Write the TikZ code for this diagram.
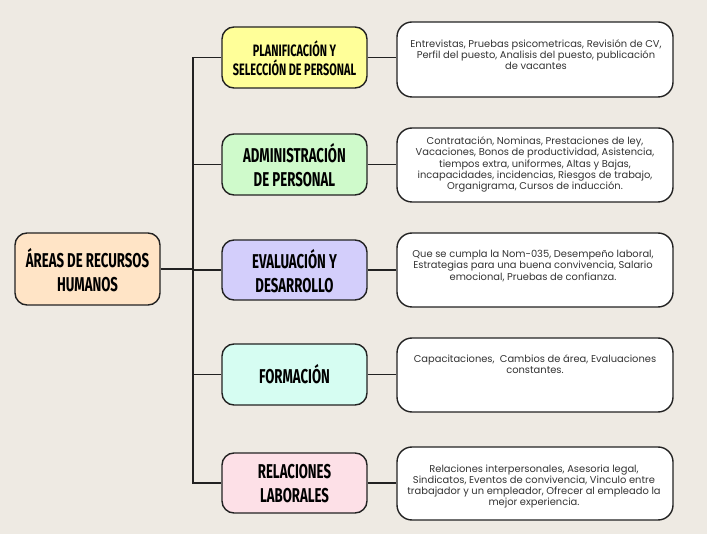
\documentclass[tikz,border=0pt]{standalone}
\usepackage{fontspec}
\setmainfont{Poppins}
\newfontfamily\headfont[FakeStretch=0.66]{Fira Sans Bold}
\definecolor{bg}{HTML}{EEEAE3}
\definecolor{edge}{HTML}{222222}
\definecolor{cyel}{HTML}{FFFF99}
\definecolor{cgrn}{HTML}{CFFACB}
\definecolor{clav}{HTML}{D3CEFB}
\definecolor{cmnt}{HTML}{D6FDF2}
\definecolor{cpnk}{HTML}{FDE0E7}
\definecolor{cpch}{HTML}{FFE4C6}
\definecolor{txt}{HTML}{333333}
\begin{document}
\begin{tikzpicture}[x=1pt,y=-1pt,
  box/.style={draw=edge,line width=1.4pt,rounded corners=12pt,inner sep=0pt,minimum width=145pt},
  infobox/.style={draw=edge,line width=1.4pt,rounded corners=15pt,fill=white,inner sep=0pt,minimum width=276pt},
  head/.style={font=\headfont\fontsize{20}{24}\selectfont,align=center,text=black},
  body/.style={font=\fontsize{9.9}{11.3}\selectfont,align=center,text=txt},
  link/.style={draw=edge,line width=1.2pt}]
\fill[bg] (0,0) rectangle (707,534);
\useasboundingbox (0,0) rectangle (707,534);
% left
\node[box,fill=cpch,minimum height=72pt] (L) at (87.5,269) {};
\node[head] (Lt) at (87.5,270) {ÁREAS DE RECURSOS\\HUMANOS};
% middle
\node[box,fill=cyel,minimum height=61pt] (M1) at (294.5,57.5) {};
\node[head,font=\headfont\fontsize{16.5}{18.5}\selectfont] (M1t) at (294.5,58.5) {PLANIFICACIÓN Y\\SELECCIÓN DE PERSONAL};
\node[box,fill=cgrn,minimum height=61pt] (M2) at (294.5,164.5) {};
\node[head] (M2t) at (294.5,165.5) {ADMINISTRACIÓN\\DE PERSONAL};
\node[box,fill=clav,minimum height=60pt] (M3) at (294.5,270) {};
\node[head] (M3t) at (294.5,271) {EVALUACIÓN Y\\DESARROLLO};
\node[box,fill=cmnt,minimum height=61pt] (M4) at (294.5,374.5) {};
\node[head] (M4t) at (294.5,374.5) {FORMACIÓN};
\node[box,fill=cpnk,minimum height=60pt] (M5) at (294.5,483) {};
\node[head] (M5t) at (294.5,484) {RELACIONES\\LABORALES};
% right
\node[infobox,minimum height=75pt] (R1) at (535,59.5) {};
\node[body] (R1t) at (536,54.5) {Entrevistas, Pruebas psicometricas, Revisión de CV,\\Perfil del puesto, Analisis del puesto, publicación\\de vacantes};
\node[infobox,minimum height=74pt] (R2) at (535,165) {};
\node[body] (R2t) at (535,164.5) {Contratación, Nominas, Prestaciones de ley,\\Vacaciones, Bonos de productividad, Asistencia,\\tiempos extra, uniformes, Altas y Bajas,\\incapacidades, incidencias, Riesgos de trabajo,\\Organigrama, Cursos de inducción.};
\node[infobox,minimum height=74pt] (R3) at (535,270) {};
\node[body] (R3t) at (533,266) {Que se cumpla la Nom-035, Desempeño laboral,\\Estrategias para una buena convivencia, Salario\\emocional, Pruebas de confianza.};
\node[infobox,minimum height=74pt] (R4) at (535,375) {};
\node[body] (R4t) at (535,364.5) {Capacitaciones,\ \ Cambios de área, Evaluaciones\\constantes.};
\node[infobox,minimum height=73pt] (R5) at (535,483.5) {};
\node[body] (R5t) at (534,486.5) {Relaciones interpersonales, Asesoria legal,\\Sindicatos, Eventos de convivencia, Vinculo entre\\trabajador y un empleador, Ofrecer al empleado la\\mejor experiencia.};
% connectors
\coordinate (bus) at (193,0);
\draw[link] (M1.west) -- (M1.west -| bus) -- (M5.west -| bus) -- (M5.west);
\draw[link] (M2.west) -- (M2.west -| bus);
\draw[link] (M3.west) -- (M3.west -| bus);
\draw[link] (M4.west) -- (M4.west -| bus);
\draw[link] (L.east) -- (L.east -| bus);
\draw[link] (M1.east) -- (M1.east -| R1.west);
\draw[link] (M2.east) -- (M2.east -| R2.west);
\draw[link] (M3.east) -- (M3.east -| R3.west);
\draw[link] (M4.east) -- (M4.east -| R4.west);
\draw[link] (M5.east) -- (M5.east -| R5.west);
\end{tikzpicture}
\end{document}
